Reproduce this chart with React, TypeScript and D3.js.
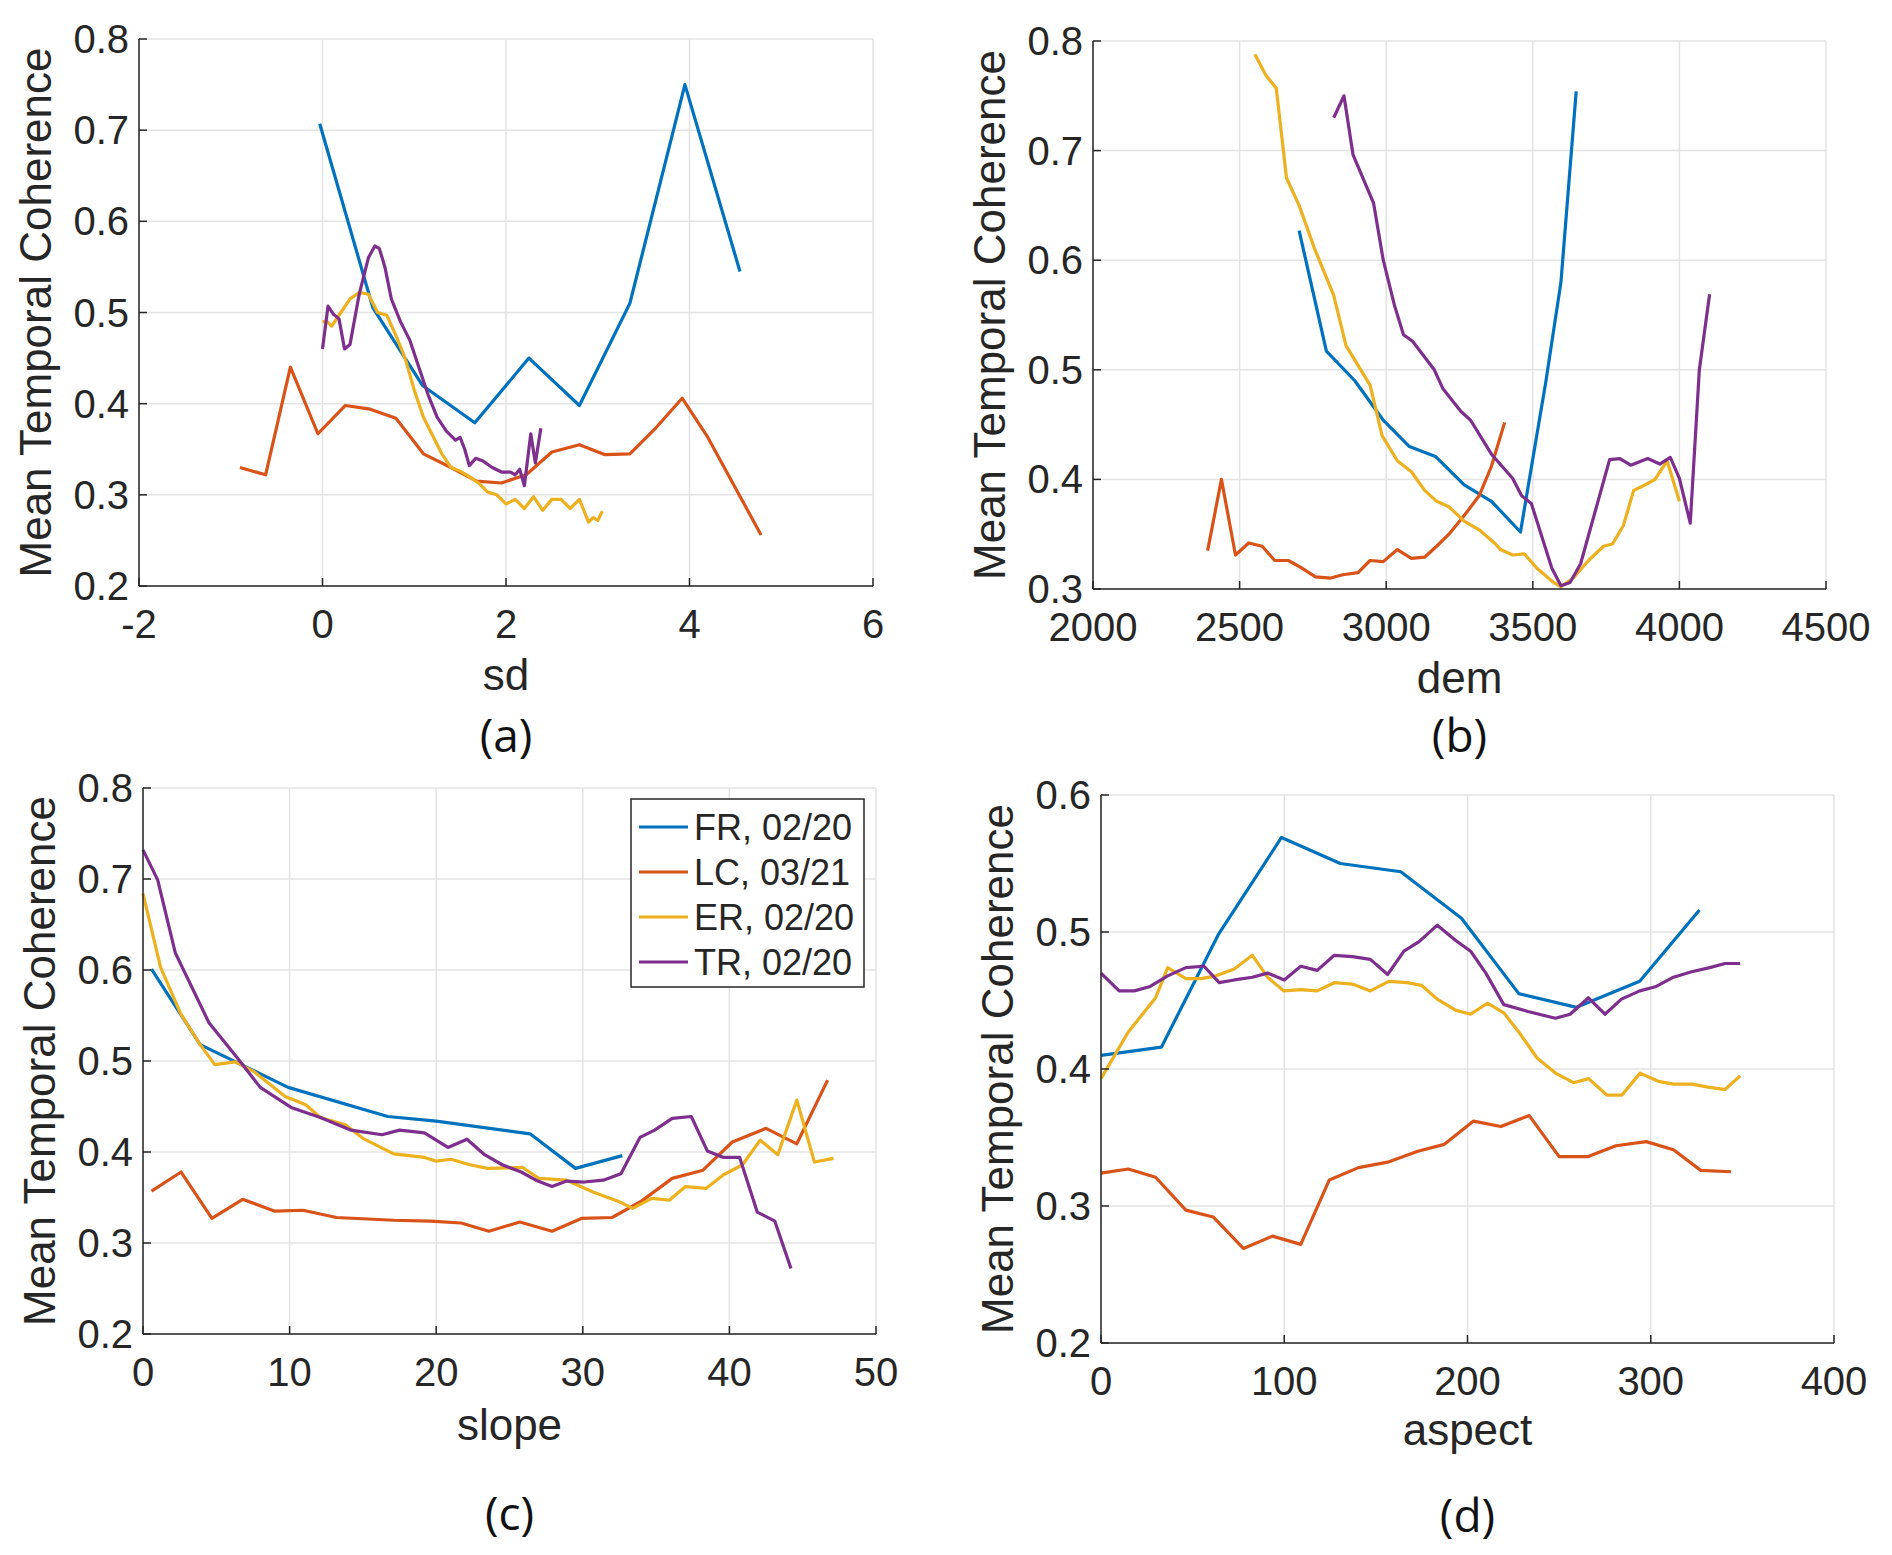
import React from "react";
import * as d3 from "d3";

type Pt = [number, number];

const seriesNames = ["FR, 02/20", "LC, 03/21", "ER, 02/20", "TR, 02/20"];
const seriesColors = ["#0072BD", "#D95319", "#EDB120", "#7E2F8E"];

// (a) sd
const sdFR: Pt[] = [[-0.03,0.707],[0.55,0.505],[1.09,0.42],[1.66,0.379],[2.25,0.45],[2.8,0.398],[3.35,0.51],[3.95,0.75],[4.55,0.545]];
const sdLC: Pt[] = [[-0.9,0.33],[-0.62,0.322],[-0.35,0.44],[-0.05,0.367],[0.25,0.398],[0.52,0.394],[0.8,0.384],[1.1,0.345],[1.4,0.33],[1.68,0.315],[1.95,0.313],[2.22,0.322],[2.5,0.347],[2.8,0.355],[3.08,0.344],[3.35,0.345],[3.62,0.372],[3.92,0.406],[4.2,0.363],[4.78,0.256]];
const sdER: Pt[] = [[0,0.49],[0.05,0.49],[0.1,0.485],[0.2,0.5],[0.3,0.515],[0.4,0.522],[0.5,0.52],[0.6,0.5],[0.7,0.497],[0.8,0.475],[0.9,0.45],[1.0,0.415],[1.1,0.385],[1.2,0.365],[1.3,0.345],[1.4,0.33],[1.5,0.326],[1.6,0.32],[1.7,0.313],[1.8,0.303],[1.9,0.3],[2.0,0.29],[2.1,0.295],[2.2,0.285],[2.3,0.298],[2.4,0.283],[2.5,0.295],[2.6,0.295],[2.7,0.285],[2.8,0.295],[2.9,0.27],[2.95,0.275],[3.0,0.272],[3.05,0.282]];
const sdTR: Pt[] = [[0,0.46],[0.06,0.507],[0.12,0.498],[0.18,0.493],[0.24,0.46],[0.3,0.465],[0.4,0.52],[0.5,0.56],[0.57,0.573],[0.62,0.57],[0.68,0.55],[0.75,0.515],[0.85,0.49],[0.95,0.47],[1.05,0.44],[1.15,0.41],[1.25,0.385],[1.35,0.37],[1.45,0.36],[1.5,0.363],[1.55,0.35],[1.6,0.332],[1.67,0.34],[1.75,0.337],[1.85,0.33],[1.95,0.325],[2.05,0.325],[2.1,0.322],[2.15,0.328],[2.2,0.31],[2.27,0.367],[2.32,0.335],[2.38,0.373]];

// (b) dem
const demFR: Pt[] = [[2703,0.627],[2796,0.517],[2893,0.49],[2990,0.454],[3079,0.43],[3168,0.421],[3266,0.395],[3359,0.38],[3458,0.352],[3545,0.49],[3596,0.58],[3648,0.754]];
const demLC: Pt[] = [[2391,0.335],[2438,0.4],[2486,0.331],[2531,0.342],[2577,0.339],[2620,0.326],[2666,0.326],[2707,0.32],[2759,0.311],[2811,0.31],[2852,0.313],[2904,0.315],[2945,0.326],[2990,0.325],[3038,0.336],[3086,0.328],[3131,0.329],[3172,0.339],[3214,0.35],[3266,0.367],[3317,0.385],[3359,0.412],[3404,0.452]];
const demER: Pt[] = [[2552,0.788],[2589,0.769],[2625,0.757],[2660,0.675],[2703,0.65],[2755,0.611],[2821,0.568],[2863,0.522],[2945,0.486],[2986,0.44],[3038,0.417],[3086,0.407],[3131,0.39],[3172,0.38],[3214,0.375],[3266,0.362],[3317,0.354],[3369,0.342],[3390,0.336],[3431,0.331],[3472,0.332],[3514,0.319],[3566,0.307],[3596,0.302],[3638,0.31],[3690,0.326],[3741,0.339],[3772,0.341],[3809,0.358],[3844,0.39],[3876,0.394],[3917,0.4],[3958,0.417],[4000,0.38]];
const demTR: Pt[] = [[2821,0.73],[2856,0.75],[2887,0.696],[2957,0.652],[2990,0.6],[3028,0.559],[3059,0.532],[3090,0.526],[3164,0.5],[3193,0.483],[3255,0.462],[3288,0.454],[3359,0.423],[3431,0.401],[3462,0.385],[3495,0.378],[3565,0.319],[3596,0.303],[3627,0.306],[3663,0.323],[3762,0.418],[3797,0.419],[3834,0.413],[3892,0.419],[3933,0.414],[3969,0.42],[4000,0.401],[4037,0.36],[4068,0.5],[4103,0.569]];

// (c) slope
const slFR: Pt[] = [[0.58,0.601],[3.9,0.518],[9.9,0.471],[16.7,0.439],[20,0.434],[26.4,0.42],[29.5,0.382],[32.7,0.396]];
const slLC: Pt[] = [[0.58,0.357],[2.6,0.378],[4.7,0.327],[6.8,0.348],[9,0.335],[10.9,0.336],[13.2,0.328],[17.1,0.325],[19.6,0.324],[21.7,0.322],[23.6,0.313],[25.7,0.323],[27.9,0.313],[29.9,0.327],[32,0.328],[34,0.346],[36.1,0.371],[38.2,0.38],[40.2,0.411],[42.5,0.426],[44.6,0.409],[46.7,0.479]];
const slER: Pt[] = [[0,0.684],[1.2,0.603],[2.6,0.551],[3.9,0.518],[4.9,0.496],[6.3,0.499],[7.6,0.488],[9.7,0.461],[11.1,0.452],[12.1,0.438],[13.8,0.43],[15,0.415],[17.1,0.398],[19.2,0.394],[20,0.39],[21,0.392],[22.3,0.386],[23.5,0.382],[25.9,0.383],[27,0.371],[28.9,0.369],[30.7,0.356],[32.4,0.346],[33.4,0.338],[34.7,0.349],[35.9,0.347],[37,0.362],[38.4,0.36],[39.6,0.375],[40.9,0.386],[42.1,0.413],[43.3,0.397],[44.6,0.457],[45.8,0.389],[47.1,0.393]];
const slTR: Pt[] = [[0,0.732],[1,0.699],[2.2,0.619],[4.5,0.542],[6.4,0.504],[8,0.471],[10.1,0.449],[12.1,0.438],[14.2,0.424],[16.3,0.419],[17.5,0.424],[19.2,0.421],[20.8,0.405],[22.1,0.414],[23.3,0.397],[24.5,0.386],[25.8,0.378],[26.8,0.369],[27.9,0.362],[28.9,0.368],[30.1,0.367],[31.4,0.369],[32.6,0.376],[33.9,0.416],[34.9,0.424],[36.1,0.437],[37.4,0.439],[38.5,0.401],[39.6,0.394],[40.7,0.394],[41.9,0.334],[43.1,0.324],[44.2,0.272]];

// (d) aspect
const asFR: Pt[] = [[0,0.41],[33,0.416],[64,0.498],[98.5,0.569],[130.6,0.55],[163.6,0.544],[196.7,0.51],[228,0.455],[259.5,0.445],[294,0.464],[326.6,0.516]];
const asLC: Pt[] = [[0,0.324],[14.9,0.327],[29.8,0.321],[46.3,0.297],[61.2,0.292],[77.7,0.269],[93.6,0.278],[109,0.272],[124.6,0.319],[140.5,0.328],[156.4,0.332],[172.9,0.34],[187.4,0.345],[203.3,0.362],[218.2,0.358],[233.7,0.366],[250,0.336],[265.5,0.336],[281,0.344],[297.5,0.347],[312.4,0.341],[327.3,0.326],[343.8,0.325]];
const asER: Pt[] = [[0,0.393],[14.9,0.427],[29.8,0.452],[36.4,0.474],[46.3,0.466],[54.5,0.466],[62.8,0.468],[72.7,0.473],[82.6,0.483],[90.9,0.467],[99.8,0.457],[109,0.458],[118,0.457],[127.3,0.463],[137.2,0.462],[147,0.457],[157,0.464],[167,0.463],[175,0.461],[183.5,0.451],[193.4,0.443],[201.7,0.44],[210.9,0.448],[219.8,0.441],[228,0.427],[238,0.408],[248,0.397],[257.9,0.39],[266.1,0.393],[276,0.381],[284.3,0.381],[294.2,0.397],[304.1,0.391],[312.4,0.389],[322.3,0.389],[330.6,0.387],[340.5,0.385],[348.8,0.395]];
const asTR: Pt[] = [[0,0.47],[9.9,0.457],[18.2,0.457],[26.4,0.46],[36.4,0.468],[46.3,0.474],[56.2,0.475],[64.5,0.463],[72.7,0.465],[82.6,0.467],[90.9,0.47],[100,0.465],[109,0.475],[118,0.472],[127.3,0.483],[137.2,0.482],[147,0.48],[156.4,0.469],[165.3,0.486],[173.6,0.493],[183.5,0.505],[193.4,0.494],[201.7,0.486],[210,0.47],[219.8,0.447],[233,0.442],[248,0.437],[256,0.44],[266,0.452],[275,0.44],[284,0.451],[294,0.457],[302.5,0.46],[312.4,0.467],[322.3,0.471],[332.2,0.474],[340.5,0.477],[348.8,0.477]];

const sdTicks = [-2, 0, 2, 4, 6];
const demTicks = [2000, 2500, 3000, 3500, 4000, 4500];
const slopeTicks = [0, 10, 20, 30, 40, 50];
const aspectTicks = [0, 100, 200, 300, 400];
const yTicksA = [0.2, 0.3, 0.4, 0.5, 0.6, 0.7, 0.8];
const yTicksB = [0.3, 0.4, 0.5, 0.6, 0.7, 0.8];
const yTicksD = [0.2, 0.3, 0.4, 0.5, 0.6];

const FONT = "'Liberation Sans', Arial, sans-serif";
const AXIS = "#262626";

interface PanelProps {
  box: { l: number; r: number; t: number; b: number };
  xTicks: number[];
  yTicks: number[];
  series: Pt[][];
  xLabel: string;
  tag: string;
  xLabelY: number;
  tagY: number;
  legend?: boolean;
}

function Panel({ box, xTicks, yTicks, series, xLabel, tag, xLabelY, tagY, legend }: PanelProps) {
  const x = d3.scaleLinear().domain([xTicks[0], xTicks[xTicks.length - 1]]).range([box.l, box.r]);
  const y = d3.scaleLinear().domain([yTicks[0], yTicks[yTicks.length - 1]]).range([box.b, box.t]);
  const line = d3.line<Pt>().x((d) => x(d[0])).y((d) => y(d[1]));
  const fmtY = d3.format(".1f");
  const cx = (box.l + box.r) / 2;
  return (
    <g>
      {xTicks.map((t) => (
        <line key={"gx" + t} x1={x(t)} x2={x(t)} y1={box.t} y2={box.b} stroke="#e3e3e3" strokeWidth={1.5} />
      ))}
      {yTicks.map((t) => (
        <line key={"gy" + t} x1={box.l} x2={box.r} y1={y(t)} y2={y(t)} stroke="#e3e3e3" strokeWidth={1.5} />
      ))}
      {series.map((s, i) => (
        <path key={i} d={line(s) || ""} fill="none" stroke={seriesColors[i]} strokeWidth={3.2} strokeLinejoin="round" />
      ))}
      <line x1={box.l} x2={box.r} y1={box.b} y2={box.b} stroke={AXIS} strokeWidth={1.5} />
      <line x1={box.l} x2={box.l} y1={box.t} y2={box.b} stroke={AXIS} strokeWidth={1.5} />
      {xTicks.map((t) => (
        <g key={"tx" + t}>
          <line x1={x(t)} x2={x(t)} y1={box.b} y2={box.b - 8} stroke={AXIS} strokeWidth={1.5} />
          <text x={x(t)} y={box.b + 52} textAnchor="middle" fontSize={40} fontFamily={FONT} fill={AXIS}>{t}</text>
        </g>
      ))}
      {yTicks.map((t) => (
        <g key={"ty" + t}>
          <line x1={box.l} x2={box.l + 8} y1={y(t)} y2={y(t)} stroke={AXIS} strokeWidth={1.5} />
          <text x={box.l - 10} y={y(t) + 14} textAnchor="end" fontSize={40} fontFamily={FONT} fill={AXIS}>{fmtY(t)}</text>
        </g>
      ))}
      <text x={cx} y={xLabelY} textAnchor="middle" fontSize={44} fontFamily={FONT} fill={AXIS}>{xLabel}</text>
      <text transform={`translate(${box.l - 88},${(box.t + box.b) / 2}) rotate(-90)`} textAnchor="middle" fontSize={44} fontFamily={FONT} fill={AXIS}>
        Mean Temporal Coherence
      </text>
      <text x={cx} y={tagY} textAnchor="middle" fontSize={46} fontFamily="'Open Sans', sans-serif" fill="#111">{tag}</text>
      {legend && (
        <g>
          <rect x={631} y={799} width={233} height={188} fill="#fff" stroke={AXIS} strokeWidth={1.5} />
          {seriesNames.map((n, i) => (
            <g key={n}>
              <line x1={639} x2={688} y1={827 + i * 45} y2={827 + i * 45} stroke={seriesColors[i]} strokeWidth={3.2} />
              <text x={694} y={827 + i * 45 + 13} fontSize={36} fontFamily={FONT} fill={AXIS}>{n}</text>
            </g>
          ))}
        </g>
      )}
    </g>
  );
}

export default function App() {
  return (
    <svg width={1892} height={1555} style={{ position: "absolute", left: 0, top: 0, background: "#fff" }}>
      <rect width={1892} height={1555} fill="#fff" />
      <Panel box={{ l: 139, r: 873, t: 39, b: 586 }} xTicks={sdTicks} yTicks={yTicksA} series={[sdFR, sdLC, sdER, sdTR]} xLabel="sd" tag="(a)" xLabelY={690} tagY={752} />
      <Panel box={{ l: 1093, r: 1826, t: 41, b: 589 }} xTicks={demTicks} yTicks={yTicksB} series={[demFR, demLC, demER, demTR]} xLabel="dem" tag="(b)" xLabelY={693} tagY={752} />
      <Panel box={{ l: 143, r: 876, t: 788, b: 1334 }} xTicks={slopeTicks} yTicks={yTicksA} series={[slFR, slLC, slER, slTR]} xLabel="slope" tag="(c)" xLabelY={1440} tagY={1530} legend />
      <Panel box={{ l: 1101, r: 1834, t: 795, b: 1343 }} xTicks={aspectTicks} yTicks={yTicksD} series={[asFR, asLC, asER, asTR]} xLabel="aspect" tag="(d)" xLabelY={1445} tagY={1532} />
    </svg>
  );
}
